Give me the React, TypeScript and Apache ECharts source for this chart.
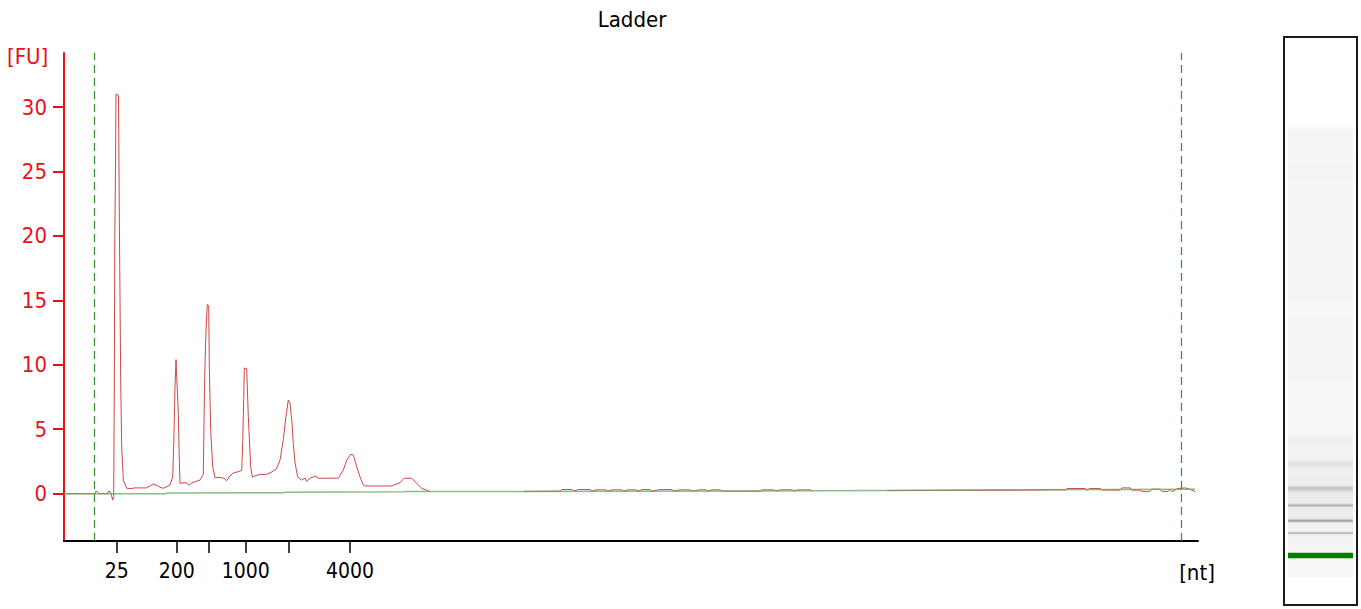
import React, { useEffect, useRef } from "react";
import * as echarts from "echarts";

// ---------- data ----------
const chartTitle = "Ladder";
const yUnit = "[FU]";
const xUnit = "[nt]";
const yTicks = [0, 5, 10, 15, 20, 25, 30];
const yRange = [-3.67, 34.19];
const timeRange = [17, 73.7]; // migration time (s)

const ladderSizes = [25, 200, 500, 1000, 2000, 4000];
const ladderTimes = [19.635, 22.635, 24.215, 26.085, 28.215, 31.3];
const labeledSizes = [25, 200, 1000, 4000];
const alignmentWindow = [18.5, 72.85];
const lowerMarkerWindow = [19.45, 20.2];

// electropherogram trace: [time (s), fluorescence (FU)]
const traceSeg1: [number, number][] = [
  [17.0, 0], [17.8, 0], [18.55, 0], [18.6, 0.2], [18.675, 0.15], [18.75, 0],
  [19.175, 0], [19.225, 0.2], [19.3, 0.15], [19.35, 0], [19.435, -0.5], [19.485, -0.2],
  [19.515, 8], [19.54, 20], [19.565, 23.5], [19.6, 31.0], [19.725, 30.9], [19.765, 21.8],
  [19.835, 8.8], [19.885, 3.65], [19.965, 1.06], [20.135, 0.42], [20.35, 0.4], [20.55, 0.45],
  [20.9, 0.45], [21.135, 0.45], [21.3, 0.6], [21.465, 0.75], [21.65, 0.65], [21.8, 0.5],
  [21.965, 0.42], [22.15, 0.55], [22.3, 0.67], [22.435, 1.3], [22.49, 4], [22.55, 8.3],
  [22.6, 10.4], [22.635, 9.1], [22.715, 6.3], [22.76, 3], [22.8, 0.8], [22.95, 0.85],
  [23.1, 0.85], [23.265, 0.67], [23.4, 0.85], [23.6, 0.95], [23.8, 1.06], [23.965, 1.5],
  [24.035, 9.1], [24.1, 12.7], [24.165, 14.7], [24.235, 14.6], [24.265, 9.9], [24.335, 4.9],
  [24.435, 2.1], [24.55, 1.25], [24.8, 1.25], [25.0, 1.2], [25.135, 1.0], [25.25, 1.3],
  [25.45, 1.6], [25.7, 1.7], [25.885, 1.8], [25.935, 3.9], [25.985, 7.3], [26.015, 9.75],
  [26.135, 9.7], [26.215, 6], [26.335, 2.1], [26.415, 1.3], [26.6, 1.4], [26.8, 1.5],
  [27.135, 1.5], [27.4, 1.7], [27.6, 1.9], [27.8, 2.6], [27.965, 4.2], [28.1, 6],
  [28.215, 7.27], [28.3, 7.0], [28.4, 5.5], [28.465, 3.9], [28.55, 2.4], [28.685, 1.3],
  [28.885, 1.06], [29.05, 1.2], [29.135, 0.95], [29.3, 1.2], [29.6, 1.37], [29.7, 1.2],
  [30.635, 1.2], [30.715, 1.2], [30.965, 1.84], [31.135, 2.6], [31.335, 3.06], [31.465, 3.0],
  [31.635, 2.1], [31.8, 1.3], [31.965, 0.68], [32.05, 0.6], [33.385, 0.6], [33.8, 0.85],
  [34.0, 1.2], [34.385, 1.2], [34.635, 0.8], [34.885, 0.42], [35.3, 0.16],
];
const traceSeg2: [number, number][] = [
  [40.0, 0.18], [41.8, 0.2], [41.9, 0.32], [42.4, 0.32], [42.5, 0.2], [42.7, 0.32],
  [43.3, 0.32], [43.4, 0.2], [43.6, 0.3], [44.1, 0.3], [44.2, 0.2], [44.4, 0.3],
  [44.9, 0.3], [45.0, 0.2], [45.2, 0.3], [45.6, 0.3], [45.7, 0.2], [45.9, 0.32],
  [46.3, 0.32], [46.4, 0.2], [46.8, 0.32], [47.4, 0.32], [47.5, 0.2], [47.8, 0.3],
  [48.3, 0.3], [48.4, 0.2], [48.8, 0.3], [49.1, 0.3], [49.2, 0.2], [49.4, 0.3],
  [49.8, 0.3], [49.9, 0.2], [51.8, 0.2], [51.9, 0.3], [52.5, 0.3], [52.6, 0.2],
  [52.8, 0.3], [53.4, 0.3], [53.5, 0.2], [53.7, 0.3], [54.3, 0.3], [54.45, 0.2],
];
const traceSeg3: [number, number][] = [
  [58.15, 0.25], [64.15, 0.27], [67.1, 0.3], [67.15, 0.4], [68.05, 0.4], [68.15, 0.28],
  [68.3, 0.4], [68.8, 0.4], [68.9, 0.28], [69.8, 0.28], [69.9, 0.45], [70.3, 0.45],
  [70.4, 0.28], [70.8, 0.28], [70.9, 0.18], [71.3, 0.18], [71.4, 0.35], [71.8, 0.35],
  [71.9, 0.18], [72.2, 0.18], [72.3, 0.35], [72.4, 0.15], [72.7, 0.4], [73.05, 0.45],
  [73.3, 0.35], [73.55, 0.15],
];
const baseline: [number, number][] = [
  [17.0, 0], [22.1, 0], [22.15, 0.05], [28.0, 0.08], [28.05, 0.12], [34.0, 0.15],
  [34.05, 0.18], [40.0, 0.18], [54.5, 0.22], [58.15, 0.25], [64.15, 0.3], [73.55, 0.35],
];

// ---------- styles ----------
const RED = "#e8101a";
const TRACE = "#d24646";
const GREEN_BASE = "#5fa85f";
const GREEN_DASH = "#2f922f";
const NUM_FONT = "'Liberation Sans Narrow', 'DejaVu Sans Condensed', sans-serif";
const TXT_FONT = "'DejaVu Sans Condensed', 'DejaVu Sans', sans-serif";

function buildLane() {
  const pts = [...traceSeg1, ...traceSeg2, ...traceSeg3];
  const out: number[][] = [];
  for (let i = 0; i < pts.length - 1; i++) {
    out.push([pts[i][0], pts[i + 1][0], (pts[i][1] + pts[i + 1][1]) / 2]);
  }
  return out;
}

function laneColor(t0: number, t1: number, v: number) {
  const mid = (t0 + t1) / 2;
  if (mid >= lowerMarkerWindow[0] && mid <= lowerMarkerWindow[1]) return "#008000";
  const g = Math.round(Math.max(165, Math.min(249, 247 - 7.5 * Math.max(0, v))));
  return `rgb(${g},${g},${g})`;
}

export default function App() {
  const ref = useRef<HTMLDivElement>(null);

  useEffect(() => {
    if (!ref.current) return;
    const chart = echarts.init(ref.current, null, { renderer: "svg" });
    const labeledTimes = ladderTimes.filter((_, i) => labeledSizes.includes(ladderSizes[i]));
    const traceLine = (data: [number, number][]) => ({
      type: "line",
      xAxisIndex: 0,
      yAxisIndex: 0,
      data,
      showSymbol: false,
      symbol: "none",
      silent: true,
      z: 3,
      lineStyle: { color: TRACE, width: 1 },
    });

    chart.setOption({
      animation: false,
      title: {
        text: chartTitle,
        left: 627,
        textAlign: "center",
        top: 3,
        textStyle: { fontSize: 22, fontWeight: "normal", color: "#000", fontFamily: TXT_FONT },
      },
      grid: [
        { left: 64, top: 53, width: 1134, height: 488, containLabel: false, outerBoundsMode: "none" },
        { left: 1288, top: 127, width: 65, height: 450, show: true, backgroundColor: "#f8f8f8", borderWidth: 0, outerBoundsMode: "none" },
      ],
      xAxis: [
        {
          type: "value",
          gridIndex: 0,
          min: timeRange[0],
          max: timeRange[1],
          splitLine: { show: false },
          axisLine: { onZero: false, lineStyle: { color: "#000", width: 2 } },
          axisTick: { show: true, customValues: ladderTimes, length: 12, lineStyle: { color: "#000", width: 1.5 } },
          axisLabel: {
            customValues: labeledTimes,
            margin: 19,
            color: "#000",
            fontSize: 21,
            fontFamily: NUM_FONT,
            formatter: (v: number) => {
              const i = ladderTimes.findIndex((t) => Math.abs(t - v) < 1e-6);
              return i >= 0 ? String(ladderSizes[i]) : "";
            },
          },
        },
        { type: "value", gridIndex: 1, min: 0, max: 1, show: false },
      ],
      yAxis: [
        {
          type: "value",
          gridIndex: 0,
          min: yRange[0],
          max: yRange[1],
          splitLine: { show: false },
          axisLine: { show: true, onZero: false, lineStyle: { color: RED, width: 2 } },
          axisTick: { show: true, customValues: yTicks, length: 11, lineStyle: { color: RED, width: 2 } },
          axisLabel: { customValues: yTicks, margin: 17, color: RED, fontSize: 22, fontFamily: NUM_FONT },
        },
        { type: "value", gridIndex: 1, min: timeRange[0], max: timeRange[1], show: false },
      ],
      series: [
        traceLine(traceSeg1),
        traceLine(traceSeg2),
        traceLine(traceSeg3),
        {
          type: "line",
          xAxisIndex: 0,
          yAxisIndex: 0,
          data: baseline,
          showSymbol: false,
          symbol: "none",
          silent: true,
          z: 4,
          lineStyle: { color: GREEN_BASE, width: 1.5, opacity: 0.75 },
          markLine: {
            silent: true,
            symbol: ["none", "none"],
            label: { show: false },
            lineStyle: { color: GREEN_DASH, type: [8, 5], width: 1.2, opacity: 1 },
            emphasis: { disabled: true },
            data: alignmentWindow.map((t) => ({ xAxis: t, lineStyle: { color: GREEN_DASH } })),
          },
        },
        {
          type: "custom",
          xAxisIndex: 1,
          yAxisIndex: 1,
          silent: true,
          clip: true,
          data: buildLane(),
          encode: { y: [0, 1] },
          renderItem: (_params: any, api: any) => {
            const t0 = api.value(0);
            const t1 = api.value(1);
            const v = api.value(2);
            const p0 = api.coord([0, t0]);
            const p1 = api.coord([1, t1]);
            return {
              type: "rect",
              shape: { x: p0[0], y: p1[1], width: p1[0] - p0[0], height: p0[1] - p1[1] + 0.6 },
              style: { fill: laneColor(t0, t1, v) },
            };
          },
        },
      ],
      graphic: [
        {
          type: "text",
          left: 7,
          top: 45,
          silent: true,
          style: { text: yUnit, fill: RED, font: `22px ${TXT_FONT}` },
        },
        {
          type: "text",
          x: 1197,
          y: 572,
          silent: true,
          style: { text: xUnit, fill: "#000", font: `22px ${TXT_FONT}`, align: "center", verticalAlign: "middle" },
        },
        {
          type: "rect",
          silent: true,
          shape: { x: 1284, y: 37, width: 73, height: 568 },
          style: { fill: "none", stroke: "#1a1a1a", lineWidth: 2 },
          z: 10,
        },
      ],
    });

    return () => chart.dispose();
  }, []);

  return (
    <div
      ref={ref}
      style={{ position: "absolute", left: 0, top: 0, width: 1361, height: 609, background: "#fff" }}
    />
  );
}
